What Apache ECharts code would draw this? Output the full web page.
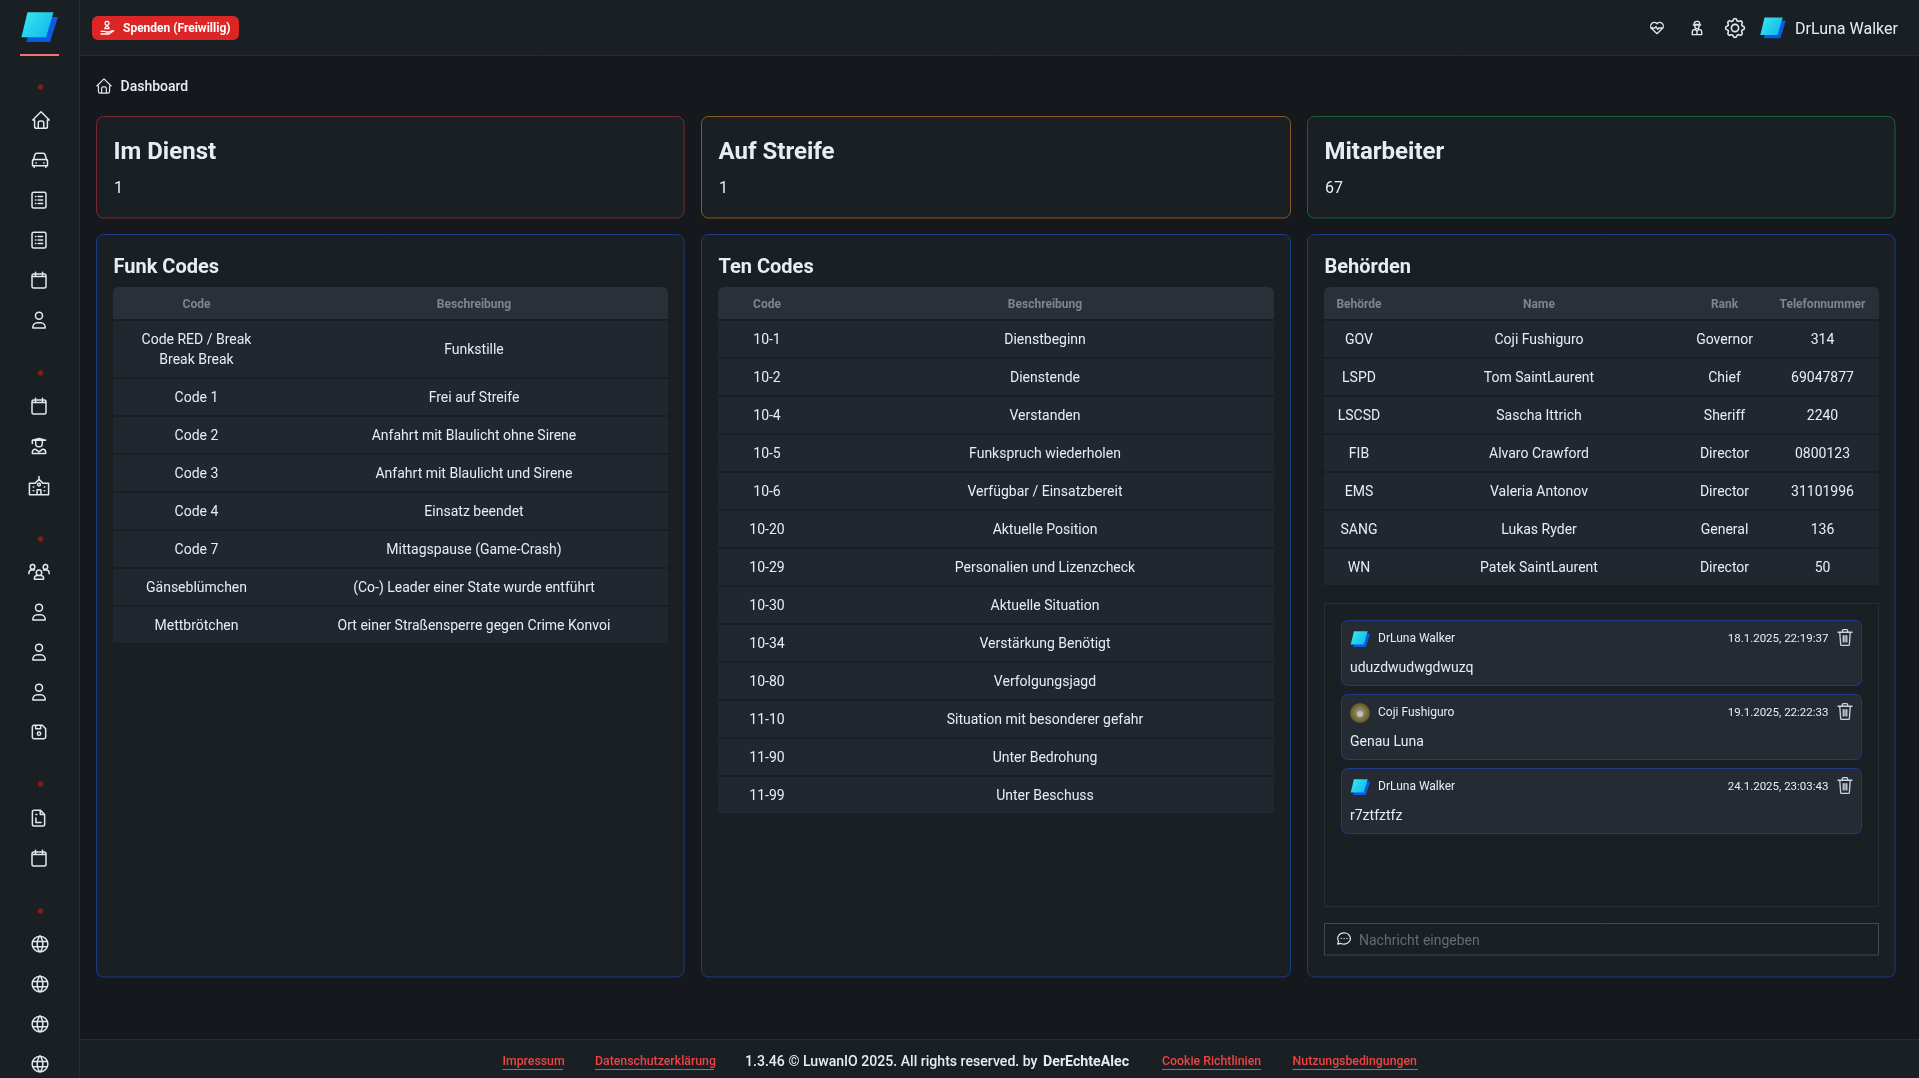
<!DOCTYPE html>
<html><head><meta charset="utf-8">
<style>html,body{margin:0;padding:0;background:#15191e;overflow:hidden}#c{width:1919px;height:1078px}</style>
<script src="https://cdn.jsdelivr.net/npm/echarts@6/dist/echarts.min.js"></script>
</head><body><div id="c"></div>
<script>
const statTitles=['Im Dienst','Auf Streife','Mitarbeiter'];
const statValues=['1','1','67'];
const funkHeader=['Code','Beschreibung'];
const funkCodes=[['Code RED / Break','Break Break'],'Code 1','Code 2','Code 3','Code 4','Code 7','Gänseblümchen','Mettbrötchen'];
const funkDesc=['Funkstille','Frei auf Streife','Anfahrt mit Blaulicht ohne Sirene','Anfahrt mit Blaulicht und Sirene','Einsatz beendet','Mittagspause (Game-Crash)','(Co-) Leader einer State wurde entführt','Ort einer Straßensperre gegen Crime Konvoi'];
const tenCodes=['10-1','10-2','10-4','10-5','10-6','10-20','10-29','10-30','10-34','10-80','11-10','11-90','11-99'];
const tenDesc=['Dienstbeginn','Dienstende','Verstanden','Funkspruch wiederholen','Verfügbar / Einsatzbereit','Aktuelle Position','Personalien und Lizenzcheck','Aktuelle Situation','Verstärkung Benötigt','Verfolgungsjagd','Situation mit besonderer gefahr','Unter Bedrohung','Unter Beschuss'];
const behHeader=['Behörde','Name','Rank','Telefonnummer'];
const behAgency=['GOV','LSPD','LSCSD','FIB','EMS','SANG','WN'];
const behName=['Coji Fushiguro','Tom SaintLaurent','Sascha Ittrich','Alvaro Crawford','Valeria Antonov','Lukas Ryder','Patek SaintLaurent'];
const behRank=['Governor','Chief','Sheriff','Director','Director','General','Director'];
const behPhone=['314','69047877','2240','0800123','31101996','136','50'];
const msgUser=['DrLuna Walker','Coji Fushiguro','DrLuna Walker'];
const msgDate=['18.1.2025, 22:19:37','19.1.2025, 22:22:33','24.1.2025, 23:03:43'];
const msgText=['uduzdwudwgdwuzq','Genau Luna','r7ztfztfz'];
const footerLinks=['Impressum','Datenschutzerklärung','Cookie Richtlinien','Nutzungsbedingungen'];

const FF='Roboto, "Noto Sans", sans-serif';
const TXT='#e6edf4', G=[];
const C={bg:'#15191e',panel:'#1a1f23',row:'#22272f',head:'#2b3038',blue:'#1e3a8a',line:'#262b31'};
function rect(x,y,w,h,fill,stroke,r,lw){G.push({type:'rect',silent:true,shape:{x,y,width:w,height:h,r:r||0},style:{fill:fill||'none',stroke:stroke||'none',lineWidth:lw||1}});}
function txt(s,x,y,size,o){o=o||{};G.push({type:'text',silent:true,x,y,style:{text:s,font:(o.w||400)+' '+size+'px '+FF,fill:o.c||TXT,textAlign:o.a||'left',textVerticalAlign:'middle'}});}
const P={
home:'M5 12H3l9-9 9 9h-2M5 12v7a2 2 0 0 0 2 2h10a2 2 0 0 0 2-2v-7M9 21v-6a2 2 0 0 1 2-2h2a2 2 0 0 1 2 2v6',
car:'M4 12L6 5.5A2 2 0 0 1 8 4h8a2 2 0 0 1 2 1.5L20 12M4 11.5h16a1 1 0 0 1 1 1V19H3v-6.5a1 1 0 0 1 1-1M5 19v2M19 19v2M7 15.5h.5M16.5 15.5h.5',
list:'M6 3h12a2 2 0 0 1 2 2v14a2 2 0 0 1-2 2H6a2 2 0 0 1-2-2V5a2 2 0 0 1 2-2M8 8h.5M11 8h5M8 12h.5M11 12h5M8 16h.5M11 16h5',
cal:'M4 7a2 2 0 0 1 2-2h12a2 2 0 0 1 2 2v12a2 2 0 0 1-2 2H6a2 2 0 0 1-2-2zM8 3v4M16 3v4M4 8h16',
user:'M12 3a4 4 0 1 0 0 8a4 4 0 0 0 0-8M5 21v-1a5 5 0 0 1 5-5h4a5 5 0 0 1 5 5v1z',
grad:'M4 5l8-2 8 2H4zM4 5v4M8 6v3a4 4 0 0 0 8 0V6M4 21v-2a3.5 3.5 0 0 1 4-3l4 3 4-3a3.5 3.5 0 0 1 4 3v2z',
school:'M2 9h6l4-4 4 4h6v12H2zM12 5V2M10 21v-5h4v5M12 9a1.5 1.5 0 1 0 .01 0M6 13h.5M6 17h.5M18 13h-.5M18 17h-.5',
users:'M12 11a3 3 0 1 0 .01 0M7 21v-1a3 3 0 0 1 3-3h4a3 3 0 0 1 3 3v1zM5 5a2.5 2.5 0 1 0 .01 0M1 15v-1a3 3 0 0 1 3-3h3M19 5a2.5 2.5 0 1 0 .01 0M23 15v-1a3 3 0 0 0-3-3h-3',
save:'M6 4h10l4 4v10a2 2 0 0 1-2 2H6a2 2 0 0 1-2-2V6a2 2 0 0 1 2-2M12 12a2 2 0 1 0 .01 0M14 4v4H8V4',
file:'M14 3H7a2 2 0 0 0-2 2v14a2 2 0 0 0 2 2h10a2 2 0 0 0 2-2V8zM14 3v5h5M9 8h1M9 12v5h6',
globe:'M12 3a9 9 0 1 0 0 18a9 9 0 0 0 0-18M3.6 9h16.8M3.6 15h16.8M11.5 3a17 17 0 0 0 0 18M12.5 3a17 17 0 0 1 0 18',
heart:'M19.5 12.6L12 20l-7.5-7.4A5 5 0 1 1 12 6a5 5 0 1 1 7.5 6.6M3 12h6l1.5-2 2.5 4 1.5-2h6',
gear:'M10.3 4.3c.4-1.8 3-1.8 3.4 0a1.7 1.7 0 0 0 2.6 1.1c1.5-.9 3.3.8 2.4 2.4a1.7 1.7 0 0 0 1 2.5c1.8.4 1.8 3 0 3.4a1.7 1.7 0 0 0-1 2.6c.9 1.5-.8 3.3-2.4 2.4a1.7 1.7 0 0 0-2.6 1c-.4 1.8-3 1.8-3.4 0a1.7 1.7 0 0 0-2.5-1c-1.6.9-3.3-.9-2.4-2.4a1.7 1.7 0 0 0-1.1-2.6c-1.8-.4-1.8-3 0-3.4a1.7 1.7 0 0 0 1-2.5c-.9-1.6.9-3.3 2.5-2.4 1 .6 2.3.1 2.5-1.1M12 8.5a3.5 3.5 0 1 0 .01 0',
ghost:'M12 2a4 3.5 0 0 0-4 4.5h8A4 3.5 0 0 0 12 2zM6.5 7.5h11M9 8v2a3 3 0 0 0 6 0V8M5 22v-4a4 4 0 0 1 4-4l3 3 3-3a4 4 0 0 1 4 4v4zM12 17v5',
trash:'M4 6h16M9 6V4a1 1 0 0 1 1-1h4a1 1 0 0 1 1 1v2M6 6l1 14a1 1 0 0 0 1 1h8a1 1 0 0 0 1-1l1-14M10 10v7M12 10v7M14 10v7',
chat:'M3 20l1.3-3.9A9 8 0 1 1 7.7 19zM8 12h.5M12 12h.5M16 12h.5',
hand:'M12 2a3 3 0 1 0 .01 0M9 13a3 3 0 0 1 6 0h-6M3 17h5l3 1h4l5-2M3 21h12l7-5'
};
Object.keys(P).forEach(k=>echarts.graphic.registerShape('ic_'+k,echarts.graphic.extendPath(P[k],{})));
function icon(n,cx,cy,size,c,lw){const s=size/24;G.push({type:'ic_'+n,silent:true,x:cx-12*s,y:cy-12*s,scaleX:s,scaleY:s,style:{fill:'none',stroke:c||'#e2e8f0',lineWidth:(lw||1.5)/s,lineCap:'round',lineJoin:'round'}});}
function logo(x,y,s){
 G.push({type:'polygon',silent:true,shape:{points:[[29*s+x,5*s+y],[37*s+x,5*s+y],[29*s+x,30*s+y],[5*s+x,30*s+y],[7*s+x,25*s+y]]},style:{fill:'#0b5be0'}});
 G.push({type:'polygon',silent:true,shape:{points:[[6.5*s+x,.3*s+y],[32.5*s+x,.3*s+y],[25*s+x,25.3*s+y],[.4*s+x,25.3*s+y]]},style:{fill:{type:'linear',x:0,y:0,x2:1,y2:1,colorStops:[{offset:0,color:'#37ecea'},{offset:1,color:'#0fb2f0'}]}}});
}
// layout shell
rect(0,0,1919,1078,C.bg);
rect(0,0,80,1078,C.panel);
rect(80,0,1839,55,C.panel);
rect(80,1039,1839,39,C.panel);
G.push({type:'line',silent:true,shape:{x1:79.5,y1:0,x2:79.5,y2:1078},style:{stroke:C.line,lineWidth:1}});
G.push({type:'line',silent:true,shape:{x1:80,y1:55.5,x2:1919,y2:55.5},style:{stroke:C.line,lineWidth:1}});
G.push({type:'line',silent:true,shape:{x1:80,y1:1039.5,x2:1919,y2:1039.5},style:{stroke:C.line,lineWidth:1}});
// sidebar
logo(21,12,1);
rect(20,54,39,2,'#f87171');
[87,373,539,784,911].forEach(y=>G.push({type:'circle',silent:true,shape:{cx:40.5,cy:y,r:2.8},style:{fill:'#7f1d1d'}}));
[['home',120,41,22],['car',160,40,20],['list',200,39,21],['list',240,39,21],['cal',280,39,21],['user',320,39,21],['cal',406,39,21],['grad',446,39,20],['school',486,39,23],['users',571,39,22],['user',612,39,21],['user',652,39,21],['user',692,39,21],['save',732,39,20],['file',818,38.5,21],['cal',858,39,21],['globe',944,40,21],['globe',984,40,21],['globe',1024,40,21],['globe',1064,40,21]]
 .forEach(a=>icon(a[0],a[2],a[1],a[3]));
// top bar
rect(92,16,147,24,'#dc2626',null,6);
icon('hand',107,28,16,'#fff',1.3);
txt('Spenden (Freiwillig)',123,29,12,{w:700,c:'#fff'});
icon('heart',1657,28,17,'#e2e8f0',1.3);
icon('ghost',1697,28,16,'#e2e8f0',1.4);
icon('gear',1735,28,25,'#e2e8f0',1.6);
logo(1760,17.3,.7);
txt('DrLuna Walker',1795,30,16);
icon('home',104,86,19,'#e2e8f0',1.2);
txt('Dashboard',120.5,87,14,{w:500});
// stat cards
const colsX=[[96.5,587.5],[701.5,589],[1307.5,587.5]];
const statBorder=['#7a2a2e','#8a5a24','#166534'];
statTitles.forEach((t,i)=>{
 rect(colsX[i][0],116.5,colsX[i][1],101.5,C.panel,statBorder[i],7);
 txt(t,colsX[i][0]+17,152.5,24,{w:700});
 txt(statValues[i],colsX[i][0]+17.5,189,16);
 rect(colsX[i][0],234.5,colsX[i][1],742.5,C.panel,C.blue,7);
});
['Funk Codes','Ten Codes','Behörden'].forEach((t,i)=>txt(t,colsX[i][0]+17,268,20,{w:700}));
// tables
function table(x,w,cx,header,rows){
 rect(x,287,w,32,C.head,null,[6,6,0,0]);
 header.forEach((h,i)=>txt(h,cx[i],305,12,{w:700,c:'#7d8590',a:'center'}));
 let y=321;
 rows.forEach(r=>{
  const two=Array.isArray(r[0]);
  const h=two?56:36;
  rect(x,y,w,h,C.row);
  r.forEach((v,i)=>{
   if(Array.isArray(v)){txt(v[0],cx[i],y+19,14,{a:'center'});txt(v[1],cx[i],y+39,14,{a:'center'});}
   else txt(v,cx[i],y+h/2+1,14,{a:'center'});
  });
  y+=h+2;
 });
}
table(113,555,[196.5,474],funkHeader,funkCodes.map((c,i)=>[c,funkDesc[i]]));
table(718,556,[767,1045],funkHeader,tenCodes.map((c,i)=>[c,tenDesc[i]]));
table(1324,555,[1359,1539,1724.5,1822.5],behHeader,behAgency.map((c,i)=>[c,behName[i],behRank[i],behPhone[i]]));
// chat
rect(1324.5,603.5,554,303,null,'#2a2f35');
msgUser.forEach((u,i)=>{
 const y=620.5+i*74;
 rect(1341.5,y,520,65,'#252b33',C.blue,6);
 if(i===1){
  G.push({type:'circle',silent:true,shape:{cx:1360,cy:y+18.5,r:10},style:{fill:{type:'radial',x:.5,y:.5,r:.5,colorStops:[{offset:0,color:'#a8a79a'},{offset:.45,color:'#8a7f5c'},{offset:.8,color:'#6a6a30'},{offset:1,color:'#6b4f2c'}]}}});
  G.push({type:'circle',silent:true,shape:{cx:1360,cy:y+19.5,r:3},style:{fill:'#c4c2b6'}});
 } else logo(1350.5,y+10.5,.53);
 txt(u,1378,y+18.5,12);
 txt(msgDate[i],1828.5,y+18.5,11.5,{a:'right'});
 icon('trash',1845,y+17,21,'#cbd5e1',1.3);
 txt(msgText[i],1350,y+47.5,14);
});
rect(1324.5,923.5,554,31.5,null,'#45494e');
icon('chat',1344,938.5,17,'#e2e8f0',1.2);
txt('Nachricht eingeben',1359,941,14,{c:'#666b70'});
// footer
const fx=[502.5,595,1162,1292.6], fw=[60.5,119,99,125.4];
footerLinks.forEach((t,i)=>{
 txt(t,fx[i],1062,12.3,{c:'#ef4444',w:500});
 G.push({type:'line',silent:true,shape:{x1:fx[i],y1:1069.5,x2:fx[i]+fw[i],y2:1069.5},style:{stroke:'#ef4444',lineWidth:1}});
});
txt('1.3.46 © LuwanIO 2025. All rights reserved. by',745,1062,14.1,{w:500});
txt('DerEchteAlec',1043,1062,14.2,{w:700});

const chart=echarts.init(document.getElementById('c'),null,{width:1919,height:1078});
chart.setOption({animation:false,backgroundColor:C.bg,graphic:{elements:G}});
</script></body></html>
